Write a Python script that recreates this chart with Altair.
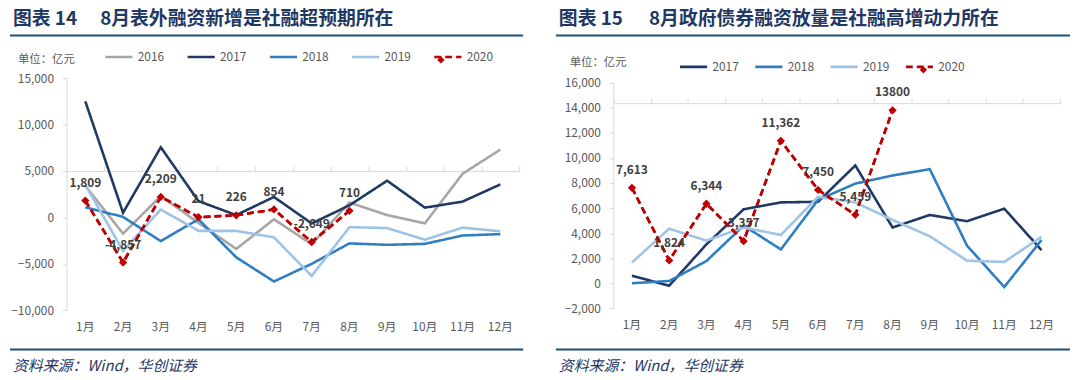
import altair as alt
import pandas as pd

# ---------------- data ----------------
months = ["1月", "2月", "3月", "4月", "5月", "6月", "7月", "8月", "9月", "10月", "11月", "12月"]

# Chart 14: 表外融资 (亿元)
c14_years = ["2016", "2017", "2018", "2019", "2020"]
c14_2016 = [3400, -1750, 2300, -600, -3400, -200, -2900, 1600, 250, -640, 4700, 7300]
c14_2017 = [12500, 500, 7550, 1750, 250, 2200, -650, 1300, 3950, 1050, 1700, 3550]
c14_2018 = [1100, 50, -2550, -200, -4300, -6900, -5000, -2800, -2950, -2850, -1950, -1800]
c14_2019 = [3500, -3600, 850, -1450, -1450, -2150, -6300, -1050, -1150, -2400, -1100, -1500]
c14_2020 = [1809, -4857, 2209, 21, 226, 854, -2649, 710]
c14_labels = ["1,809", "-4,857", "2,209", "21", "226", "854", "-2,649", "710"]

# Chart 15: 政府债券融资 (亿元)
c15_years = ["2017", "2018", "2019", "2020"]
c15_2017 = [600, -200, 3100, 5900, 6450, 6500, 9400, 4450, 5450, 4950, 5950, 2650]
c15_2018 = [0, 180, 1770, 4600, 2700, 6650, 7950, 8600, 9100, 3000, -300, 3450]
c15_2019 = [1650, 4350, 3400, 4450, 3850, 6900, 6450, 5050, 3750, 1800, 1700, 3700]
c15_2020 = [7613, 1824, 6344, 3357, 11362, 7450, 5459, 13800]
c15_labels = ["7,613", "1,824", "6,344", "3,357", "11,362", "7,450", "5,459", "13800"]

COLORS = {"2016": "#A6A6A6", "2017": "#1F3864", "2018": "#2E7EC1", "2019": "#9DC3E6", "2020": "#C00000"}
WIDTHS = {"2016": 2.6, "2017": 2.6, "2018": 2.6, "2019": 2.0, "2020": 2.6}

FONT = "Noto Sans CJK SC"
TITLE_BLUE = "#1F3864"
RULE_BLUE = "#1F4E79"
GREY = "#595959"


def long_df(years, series):
    rows = []
    for y, vals in zip(years, series):
        for m, v in zip(months, vals):
            rows.append({"year": y, "month": m, "value": v})
    return pd.DataFrame(rows)


def panel(years, series, labels, ydomain, ystep, width, plot_h, top_pad,
          title_a, title_b, title_b_x, title_y, rule_x, rule_x2, rule_y, bottom_y,
          unit_x, unit_y, legend_x, legend_y, col_pad, diamond_x):
    df = long_df(years, series)
    df20 = pd.DataFrame({"month": months[:len(series[-1])], "value": series[-1],
                         "label": labels, "year": "2020"})
    height = plot_h + top_pad
    zero_from_bottom = plot_h * (0 - ydomain[0]) / (ydomain[1] - ydomain[0])

    ticks = list(range(ydomain[0], ydomain[1] + 1, ystep))
    yscale = alt.Scale(domain=ydomain, nice=False, zero=False, range=[height, top_pad])
    yaxis = alt.Axis(values=ticks, format=",.0f", grid=False, domainColor="#D9D9D9",
                     tickColor="#D9D9D9", tickSize=4, labelPadding=9, labelColor=GREY,
                     labelFont=FONT, labelFontSize=12, title=None)
    xaxis_labels = alt.Axis(domain=False, ticks=False, labelAngle=0, labelPadding=11,
                            labelColor=GREY, labelFont=FONT, labelFontSize=12, title=None)
    xaxis_zero = alt.Axis(labels=False, domain=True, domainColor="#D9D9D9", ticks=True,
                          tickColor="#D9D9D9", tickSize=5, tickBand="extent",
                          offset=-zero_from_bottom, title=None)
    xscale = alt.Scale(domain=months, paddingInner=0, paddingOuter=0)

    leg = dict(orient="none", legendX=legend_x, legendY=legend_y, direction="horizontal",
               title=None)
    color = alt.Color("year:N", scale=alt.Scale(domain=years, range=[COLORS[y] for y in years]),
                      legend=alt.Legend(symbolType="stroke", symbolSize=750,
                                        symbolStrokeWidth=3, labelFont=FONT,
                                        labelFontSize=12, labelColor=GREY,
                                        columnPadding=col_pad, **leg))
    dash = alt.StrokeDash("year:N", scale=alt.Scale(domain=years,
                          range=[[1, 0]] * (len(years) - 1) + [[7, 4]]),
                          legend=alt.Legend(**leg))
    sw = alt.StrokeWidth("year:N", scale=alt.Scale(domain=years, range=[WIDTHS[y] for y in years]),
                         legend=None)

    lines = alt.Chart(df).mark_line().encode(
        x=alt.X("month:N", sort=months, scale=xscale, axis=xaxis_labels),
        y=alt.Y("value:Q", scale=yscale, axis=yaxis),
        color=color, strokeDash=dash, strokeWidth=sw,
        order=alt.Order("year:N"),
    )
    line20 = alt.Chart(df20).mark_line().encode(
        x=alt.X("month:N", sort=months, scale=xscale, axis=xaxis_zero),
        y=alt.Y("value:Q", scale=yscale, axis=yaxis),
        color=color, strokeDash=dash, strokeWidth=sw,
    )
    pts = alt.Chart(df20).mark_point(shape="diamond", filled=True, size=70, opacity=1,
                                     color=COLORS["2020"]).encode(
        x=alt.X("month:N", sort=months, scale=xscale, axis=None),
        y=alt.Y("value:Q", scale=yscale, axis=yaxis),
    )
    txt = alt.Chart(df20).mark_text(dy=-18, font=FONT, fontSize=12, fontWeight="bold",
                                    color="#404040").encode(
        x=alt.X("month:N", sort=months, scale=xscale, axis=None),
        y=alt.Y("value:Q", scale=yscale, axis=yaxis),
        text="label:N",
    )

    one = pd.DataFrame({"k": [0]})
    deco = []
    deco.append(alt.Chart(one).mark_text(align="left", baseline="middle", font=FONT,
                                         fontSize=19, fontWeight="bold", color=TITLE_BLUE).encode(
        x=alt.value(rule_x + 3), y=alt.value(title_y), text=alt.value(title_a)))
    deco.append(alt.Chart(one).mark_text(align="left", baseline="middle", font=FONT,
                                         fontSize=19, fontWeight="bold", color=TITLE_BLUE).encode(
        x=alt.value(title_b_x), y=alt.value(title_y), text=alt.value(title_b)))
    deco.append(alt.Chart(one).mark_rule(color=RULE_BLUE, strokeWidth=2.2).encode(
        x=alt.value(rule_x), x2=alt.value(rule_x2), y=alt.value(rule_y)))
    deco.append(alt.Chart(one).mark_rule(color=RULE_BLUE, strokeWidth=2.2).encode(
        x=alt.value(rule_x), x2=alt.value(rule_x2), y=alt.value(bottom_y)))
    deco.append(alt.Chart(one).mark_text(align="left", baseline="middle", font=FONT,
                                         fontSize=15, fontStyle="italic", color=TITLE_BLUE).encode(
        x=alt.value(rule_x + 3), y=alt.value(bottom_y + 17), text=alt.value("资料来源：Wind，华创证券")))
    deco.append(alt.Chart(one).mark_text(align="left", baseline="middle", font=FONT,
                                         fontSize=11.5, color=GREY).encode(
        x=alt.value(unit_x), y=alt.value(unit_y), text=alt.value("单位：亿元")))
    # diamond marker on the 2020 legend entry
    deco.append(alt.Chart(one).mark_point(shape="diamond", filled=True, size=55, opacity=1,
                                          color=COLORS["2020"]).encode(
        x=alt.value(diamond_x), y=alt.value(legend_y + 18)))

    return alt.layer(lines, line20, pts, txt, *deco).resolve_axis(x="independent").properties(
        width=width, height=height)


p1 = panel(c14_years, [c14_2016, c14_2017, c14_2018, c14_2019, c14_2020], c14_labels,
           [-10000, 15000], 5000, 457, 234.4, 0,
           "图表 14", "8月表外融资新增是社融超预期所在", 34, -59.3,
           -57, 461, -43, 274, -49, -18, 38, -36.3, 18, 378)
p2 = panel(c15_years, [c15_2017, c15_2018, c15_2019, c15_2020], c15_labels,
           [-2000, 16000], 2000, 451, 227.7, 4.7,
           "图表 15", "8月政府债券融资放量是社融高增动力所在", 36, -59.3,
           -58, 461, -43, 274, -44, -15.3, 66, -26.3, 11, 313)

chart = alt.hconcat(p1, p2, spacing=29).resolve_scale(
    color="independent", strokeDash="independent", strokeWidth="independent"
).properties(padding=0).configure_view(stroke=None)

chart.save("out.html", embed_options={"renderer": "svg", "actions": False})
